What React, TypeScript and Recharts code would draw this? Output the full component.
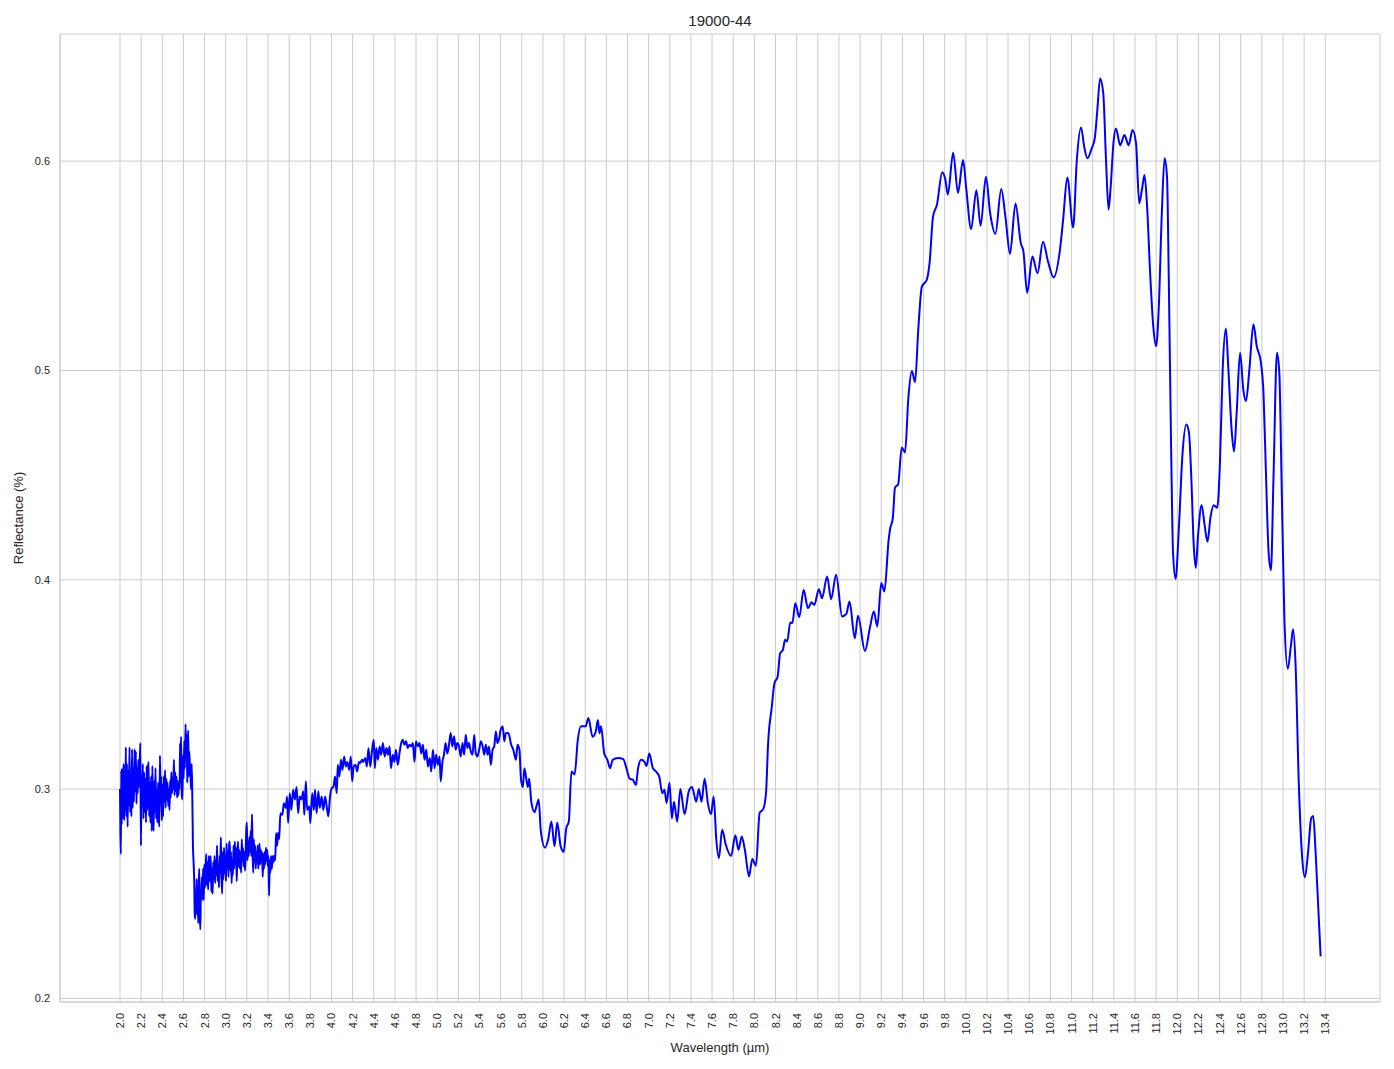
import { CartesianGrid, Label, Line, LineChart, XAxis, YAxis } from "recharts";

// [wavelength µm, reflectance]
const nearIrNoisy: [number, number][] = [
  [2.0, 0.3], [2.004, 0.279], [2.008, 0.269], [2.012, 0.309], [2.016, 0.283], [2.02, 0.31],
  [2.025, 0.286], [2.03, 0.298], [2.035, 0.312], [2.04, 0.285], [2.045, 0.305], [2.05, 0.29],
  [2.055, 0.32], [2.06, 0.287], [2.066, 0.312], [2.072, 0.282], [2.078, 0.309], [2.084, 0.292],
  [2.09, 0.32], [2.096, 0.289], [2.102, 0.306], [2.108, 0.287], [2.114, 0.319], [2.12, 0.291],
  [2.126, 0.31], [2.132, 0.294], [2.138, 0.319], [2.144, 0.299], [2.15, 0.318], [2.156, 0.293],
  [2.162, 0.31], [2.168, 0.298], [2.174, 0.314], [2.18, 0.301], [2.186, 0.309], [2.192, 0.322],
  [2.198, 0.273], [2.204, 0.306], [2.21, 0.292], [2.216, 0.312], [2.222, 0.286], [2.228, 0.308],
  [2.234, 0.289], [2.24, 0.305], [2.246, 0.284], [2.252, 0.311], [2.258, 0.29], [2.264, 0.309],
  [2.27, 0.313], [2.276, 0.287], [2.282, 0.303], [2.288, 0.284], [2.294, 0.306], [2.3, 0.28],
  [2.306, 0.311], [2.312, 0.291], [2.318, 0.28], [2.324, 0.304], [2.33, 0.289], [2.336, 0.31],
  [2.342, 0.286], [2.348, 0.3], [2.354, 0.284], [2.36, 0.303], [2.366, 0.288], [2.372, 0.282],
  [2.378, 0.316], [2.384, 0.293], [2.39, 0.306], [2.396, 0.285], [2.402, 0.302], [2.408, 0.287],
  [2.414, 0.306], [2.42, 0.294], [2.426, 0.309], [2.432, 0.291], [2.438, 0.305], [2.444, 0.295],
  [2.45, 0.303], [2.456, 0.292], [2.462, 0.3], [2.468, 0.29], [2.474, 0.304], [2.48, 0.296],
  [2.486, 0.308], [2.492, 0.298], [2.498, 0.305], [2.504, 0.3], [2.51, 0.314], [2.516, 0.297],
  [2.522, 0.308], [2.528, 0.299], [2.534, 0.306], [2.54, 0.296], [2.546, 0.304], [2.552, 0.297],
  [2.558, 0.303], [2.564, 0.3], [2.568, 0.322], [2.572, 0.309], [2.578, 0.325], [2.584, 0.298],
  [2.59, 0.295], [2.596, 0.316], [2.602, 0.305], [2.608, 0.323], [2.614, 0.31], [2.62, 0.331],
  [2.626, 0.315], [2.632, 0.326], [2.636, 0.303], [2.64, 0.32], [2.645, 0.328], [2.65, 0.306],
  [2.655, 0.318], [2.66, 0.312], [2.666, 0.307], [2.672, 0.3], [2.678, 0.312], [2.684, 0.296],
  [2.69, 0.273], [2.696, 0.265], [2.702, 0.256], [2.707, 0.24], [2.712, 0.238], [2.716, 0.251],
  [2.72, 0.24], [2.725, 0.257], [2.73, 0.242], [2.735, 0.25], [2.74, 0.236], [2.745, 0.255],
  [2.75, 0.262], [2.755, 0.24], [2.76, 0.233], [2.765, 0.252], [2.77, 0.248], [2.775, 0.258],
  [2.78, 0.247], [2.786, 0.262], [2.792, 0.247], [2.798, 0.264], [2.804, 0.253], [2.81, 0.261],
  [2.816, 0.269], [2.822, 0.254], [2.828, 0.265], [2.834, 0.252], [2.84, 0.268], [2.846, 0.256],
  [2.852, 0.263], [2.858, 0.268], [2.864, 0.251], [2.87, 0.262], [2.876, 0.25], [2.882, 0.265],
  [2.888, 0.257], [2.894, 0.268], [2.9, 0.255], [2.906, 0.266], [2.912, 0.259], [2.918, 0.273],
  [2.924, 0.256], [2.93, 0.264], [2.936, 0.253], [2.942, 0.268], [2.948, 0.26], [2.954, 0.277],
  [2.96, 0.258], [2.966, 0.25], [2.972, 0.27], [2.978, 0.257], [2.984, 0.272], [2.99, 0.26],
  [2.996, 0.268], [3.002, 0.256], [3.008, 0.274], [3.014, 0.262], [3.02, 0.27], [3.026, 0.258],
  [3.032, 0.273], [3.038, 0.275], [3.044, 0.261], [3.05, 0.27], [3.056, 0.255], [3.062, 0.266],
  [3.068, 0.259], [3.074, 0.273], [3.08, 0.262], [3.086, 0.275], [3.092, 0.264], [3.098, 0.272],
  [3.104, 0.256], [3.11, 0.268], [3.116, 0.275], [3.122, 0.263], [3.128, 0.271], [3.134, 0.262],
  [3.14, 0.27], [3.146, 0.26], [3.152, 0.276], [3.158, 0.266], [3.164, 0.272], [3.17, 0.263],
  [3.176, 0.27], [3.182, 0.261], [3.188, 0.268], [3.194, 0.28], [3.2, 0.284], [3.206, 0.266],
  [3.212, 0.275], [3.218, 0.268], [3.224, 0.277], [3.23, 0.27], [3.236, 0.28], [3.242, 0.268],
  [3.248, 0.288], [3.254, 0.271], [3.26, 0.26], [3.266, 0.276], [3.272, 0.266], [3.278, 0.273],
  [3.284, 0.262], [3.29, 0.27], [3.296, 0.265], [3.302, 0.273], [3.308, 0.262], [3.314, 0.27],
  [3.32, 0.274], [3.326, 0.264], [3.332, 0.271], [3.338, 0.266], [3.344, 0.27], [3.35, 0.258],
  [3.356, 0.269], [3.362, 0.262], [3.368, 0.27], [3.374, 0.264], [3.38, 0.272], [3.386, 0.266],
  [3.392, 0.271], [3.398, 0.263], [3.404, 0.268], [3.41, 0.249], [3.416, 0.266], [3.422, 0.26],
  [3.428, 0.268], [3.436, 0.262], [3.444, 0.268], [3.452, 0.265], [3.46, 0.268], [3.468, 0.266],
  [3.476, 0.279], [3.486, 0.273], [3.495, 0.279], [3.505, 0.276],
];

const midIrBand: [number, number][] = [
  [3.517, 0.2885], [3.536, 0.2877], [3.55, 0.2933], [3.568, 0.291], [3.58, 0.2965], [3.59, 0.2838],
  [3.606, 0.298], [3.62, 0.29], [3.638, 0.2997], [3.654, 0.295], [3.67, 0.301], [3.685, 0.2885],
  [3.7, 0.2965], [3.717, 0.295], [3.733, 0.299], [3.743, 0.2877], [3.758, 0.3037], [3.77, 0.29],
  [3.79, 0.2917], [3.8, 0.2838], [3.818, 0.298], [3.834, 0.29], [3.844, 0.2997], [3.86, 0.2885],
  [3.876, 0.299], [3.89, 0.291], [3.907, 0.2965], [3.923, 0.29], [3.94, 0.2965], [3.955, 0.2917],
  [3.97, 0.287], [3.987, 0.2965], [4.003, 0.3005], [4.018, 0.301], [4.034, 0.306], [4.05, 0.298],
  [4.06, 0.3116], [4.075, 0.306], [4.09, 0.314], [4.104, 0.3092], [4.12, 0.3156], [4.135, 0.3108],
  [4.15, 0.313], [4.167, 0.3092], [4.183, 0.3156], [4.196, 0.3037], [4.21, 0.3108], [4.227, 0.3116],
  [4.243, 0.3084], [4.26, 0.313], [4.27, 0.3124], [4.29, 0.314], [4.3, 0.313], [4.32, 0.3148],
  [4.335, 0.3108], [4.35, 0.3196], [4.367, 0.3108], [4.383, 0.318], [4.4, 0.3236], [4.41, 0.31],
  [4.424, 0.3196], [4.44, 0.314], [4.455, 0.3204], [4.47, 0.3164], [4.487, 0.322], [4.503, 0.3156],
  [4.52, 0.3196], [4.535, 0.3164], [4.55, 0.3204], [4.563, 0.31], [4.58, 0.3164], [4.595, 0.313],
  [4.61, 0.3188], [4.627, 0.3116], [4.643, 0.317], [4.66, 0.322], [4.675, 0.3236], [4.69, 0.3212],
  [4.706, 0.3228], [4.72, 0.3196], [4.738, 0.3212], [4.754, 0.3204], [4.77, 0.322], [4.785, 0.313],
  [4.8, 0.3228], [4.817, 0.3204], [4.833, 0.322], [4.85, 0.317], [4.865, 0.3212], [4.88, 0.314],
  [4.897, 0.3188], [4.912, 0.3108], [4.93, 0.3148], [4.944, 0.3084], [4.96, 0.3188], [4.976, 0.31],
  [4.99, 0.3164], [5.007, 0.3116], [5.023, 0.3156], [5.033, 0.3037], [5.05, 0.313], [5.064, 0.3164],
  [5.08, 0.322], [5.096, 0.317], [5.11, 0.3204], [5.128, 0.3268], [5.143, 0.3204], [5.16, 0.3252],
  [5.175, 0.3188], [5.19, 0.322], [5.207, 0.3204], [5.223, 0.3156], [5.24, 0.322], [5.255, 0.3164],
  [5.27, 0.326], [5.286, 0.3196], [5.3, 0.322], [5.318, 0.318], [5.334, 0.3164], [5.35, 0.326],
  [5.365, 0.317], [5.38, 0.3156], [5.397, 0.3188], [5.413, 0.3228], [5.43, 0.3204], [5.445, 0.3164],
  [5.46, 0.3212], [5.477, 0.3164], [5.49, 0.3204], [5.508, 0.3116], [5.524, 0.3188], [5.54, 0.3204],
  [5.555, 0.3275], [5.57, 0.322], [5.587, 0.3244], [5.6, 0.3283], [5.62, 0.3299], [5.635, 0.3228],
  [5.65, 0.3268], [5.673, 0.3268], [5.7, 0.3212], [5.72, 0.3188], [5.745, 0.314], [5.76, 0.3212],
  [5.778, 0.3188],
];

const dipRegion: [number, number][] = [
  [5.793, 0.3045], [5.81, 0.301], [5.825, 0.31], [5.857, 0.301], [5.87, 0.305], [5.89, 0.294],
  [5.92, 0.289], [5.94, 0.292], [5.96, 0.295], [5.98, 0.28], [6.02, 0.272], [6.05, 0.276],
  [6.08, 0.2845], [6.11, 0.2727], [6.135, 0.284], [6.168, 0.2727], [6.197, 0.27], [6.22, 0.281],
  [6.245, 0.2845], [6.27, 0.3084], [6.3, 0.307], [6.33, 0.3235], [6.36, 0.33], [6.405, 0.33],
  [6.43, 0.334], [6.47, 0.325], [6.5, 0.3275], [6.52, 0.333], [6.535, 0.3267], [6.55, 0.33],
  [6.58, 0.317], [6.61, 0.314], [6.635, 0.31], [6.66, 0.314], [6.71, 0.3148], [6.76, 0.3143],
  [6.79, 0.31], [6.82, 0.305], [6.85, 0.3045], [6.88, 0.302], [6.9, 0.31], [6.93, 0.314],
  [6.96, 0.313], [6.98, 0.311], [7.006, 0.317], [7.04, 0.31], [7.07, 0.3084], [7.1, 0.306],
  [7.13, 0.298], [7.15, 0.2997], [7.17, 0.2933], [7.197, 0.303], [7.22, 0.286], [7.24, 0.294],
  [7.27, 0.2845], [7.3, 0.3], [7.34, 0.288], [7.38, 0.299], [7.41, 0.301], [7.45, 0.294],
  [7.475, 0.3], [7.5, 0.294], [7.53, 0.305], [7.56, 0.2933], [7.59, 0.288], [7.615, 0.2965],
  [7.64, 0.2758], [7.665, 0.267], [7.695, 0.2806], [7.73, 0.2734], [7.78, 0.268], [7.82, 0.278],
  [7.85, 0.271], [7.88, 0.2774], [7.91, 0.271], [7.95, 0.2583], [7.98, 0.2666], [8.015, 0.2634],
  [8.05, 0.2886], [8.086, 0.2907], [8.11, 0.298],
];

const risingRegion: [number, number][] = [
  [8.13, 0.3218], [8.165, 0.3394], [8.19, 0.3506], [8.22, 0.3537], [8.244, 0.3649], [8.27, 0.3665],
  [8.29, 0.3713], [8.31, 0.3705], [8.34, 0.3796], [8.36, 0.3793], [8.387, 0.3888], [8.425, 0.3821],
  [8.466, 0.3952], [8.507, 0.3864], [8.54, 0.3892], [8.567, 0.388], [8.61, 0.3955], [8.64, 0.3912],
  [8.688, 0.4016], [8.726, 0.3907], [8.773, 0.4024], [8.83, 0.3825], [8.87, 0.3837], [8.9, 0.3896],
  [8.95, 0.372], [8.98, 0.3828], [9.046, 0.366], [9.094, 0.3774], [9.13, 0.3848], [9.163, 0.3777],
  [9.2, 0.3984], [9.23, 0.3944], [9.27, 0.419], [9.283, 0.424], [9.31, 0.4296], [9.33, 0.444],
  [9.36, 0.4456], [9.394, 0.4632], [9.425, 0.4608], [9.457, 0.4872], [9.49, 0.4997], [9.52, 0.4944],
  [9.55, 0.5192], [9.584, 0.54], [9.63, 0.5432], [9.657, 0.5512], [9.69, 0.5736], [9.727, 0.5792],
  [9.777, 0.5947], [9.806, 0.5912], [9.83, 0.584], [9.88, 0.604], [9.926, 0.5848], [9.974, 0.6005],
];

const peakRegion: [number, number][] = [
  [10.005, 0.5864], [10.05, 0.5675], [10.1, 0.5861], [10.14, 0.5691], [10.19, 0.5925], [10.23, 0.5752],
  [10.28, 0.5653], [10.335, 0.5867], [10.376, 0.5728], [10.418, 0.5557], [10.47, 0.5797], [10.52, 0.5608],
  [10.545, 0.5568], [10.58, 0.5371], [10.63, 0.5544], [10.678, 0.5464], [10.73, 0.5615], [10.778, 0.5519],
  [10.83, 0.5444], [10.89, 0.5575], [10.92, 0.5718], [10.96, 0.5922], [11.015, 0.5683], [11.05, 0.6005],
  [11.09, 0.616], [11.12, 0.6068], [11.15, 0.6013], [11.19, 0.606], [11.22, 0.611], [11.244, 0.6244],
  [11.27, 0.6395], [11.3, 0.6323], [11.326, 0.6005], [11.35, 0.5769], [11.37, 0.5877], [11.396, 0.6084],
  [11.42, 0.6156], [11.46, 0.6076], [11.5, 0.6124], [11.54, 0.6076], [11.577, 0.6148], [11.61, 0.6084],
  [11.64, 0.5798], [11.665, 0.5861], [11.69, 0.5933], [11.713, 0.5798], [11.745, 0.5447], [11.776, 0.5193],
  [11.8, 0.5116], [11.824, 0.5288], [11.855, 0.5766], [11.88, 0.6013], [11.903, 0.5925],
];

const tailRegion: [number, number][] = [
  [11.92, 0.543], [11.943, 0.459], [11.96, 0.413], [11.984, 0.4004], [12.016, 0.4256], [12.048, 0.459],
  [12.086, 0.4742], [12.11, 0.4706], [12.133, 0.4486], [12.155, 0.4172], [12.175, 0.4057], [12.197, 0.4214],
  [12.23, 0.4356], [12.26, 0.4256], [12.286, 0.4182], [12.314, 0.4298], [12.346, 0.4356], [12.378, 0.4344],
  [12.403, 0.4549], [12.43, 0.501], [12.46, 0.52], [12.483, 0.501], [12.514, 0.4717], [12.537, 0.4612],
  [12.562, 0.48], [12.594, 0.5084], [12.625, 0.4906], [12.65, 0.4853], [12.683, 0.501], [12.72, 0.522],
  [12.752, 0.5115], [12.79, 0.5042], [12.816, 0.4885], [12.84, 0.4486], [12.864, 0.413], [12.886, 0.4046],
  [12.91, 0.4486], [12.943, 0.5084], [12.965, 0.499], [12.99, 0.4382], [13.013, 0.3816], [13.045, 0.3575],
  [13.076, 0.369], [13.095, 0.3763], [13.118, 0.3606], [13.15, 0.3019], [13.18, 0.2683], [13.207, 0.2579],
  [13.238, 0.2704], [13.267, 0.2862], [13.286, 0.2872], [13.308, 0.2704], [13.356, 0.2201],
];

const xTicks = [
  2.0, 2.2, 2.4, 2.6, 2.8, 3.0, 3.2, 3.4, 3.6, 3.8, 4.0, 4.2, 4.4, 4.6, 4.8, 5.0, 5.2, 5.4, 5.6, 5.8,
  6.0, 6.2, 6.4, 6.6, 6.8, 7.0, 7.2, 7.4, 7.6, 7.8, 8.0, 8.2, 8.4, 8.6, 8.8, 9.0, 9.2, 9.4, 9.6, 9.8,
  10.0, 10.2, 10.4, 10.6, 10.8, 11.0, 11.2, 11.4, 11.6, 11.8, 12.0, 12.2, 12.4, 12.6, 12.8, 13.0,
  13.2, 13.4,
];
const yTicks = [0.2, 0.3, 0.4, 0.5, 0.6];

const spectrum = [
  ...nearIrNoisy,
  ...midIrBand,
  ...dipRegion,
  ...risingRegion,
  ...peakRegion,
  ...tailRegion,
].map(([x, y]) => ({ x, y }));

const FONT = "'Liberation Sans', Arial, sans-serif";
const TEXT = "#262626";
const GRID = "#cccccc";

function XTick({ x, y, payload }: any) {
  return (
    <text
      x={x}
      y={y}
      transform={`rotate(-90, ${x}, ${y})`}
      textAnchor="end"
      dominantBaseline="central"
      fontSize={11}
      fontFamily={FONT}
      fill={TEXT}
    >
      {Number(payload.value).toFixed(1)}
    </text>
  );
}

export default function App() {
  return (
    <div
      style={{
        position: "absolute",
        left: 0,
        top: 0,
        width: 1394,
        height: 1069,
        background: "#fff",
        fontFamily: FONT
      }}
    >
      <div
        style={{
          position: "absolute",
          left: 60,
          width: 1320,
          top: 13,
          textAlign: "center",
          fontSize: 15,
          lineHeight: "15px",
          color: TEXT
        }}
      >
        19000-44
      </div>
      <LineChart
        width={1394}
        height={1069}
        data={spectrum}
        margin={{ top: 34, right: 14, bottom: 0, left: 0 }}
      >
        <CartesianGrid stroke={GRID} strokeWidth={1} />
        <XAxis
          dataKey="x"
          type="number"
          domain={[1.4325, 13.9175]}
          allowDataOverflow
          ticks={xTicks}
          interval={0}
          height={67}
          tickLine={false}
          tickSize={0}
          tickMargin={11}
          axisLine={{ stroke: GRID }}
          tick={<XTick />}
        >
          <Label
            content={({ viewBox }: any) => (
              <text
                x={viewBox.x + viewBox.width / 2}
                y={1052}
                textAnchor="middle"
                fontSize={13}
                fontFamily={FONT}
                fill={TEXT}
              >
                Wavelength (µm)
              </text>
            )}
          />
        </XAxis>
        <XAxis
          xAxisId="top"
          orientation="top"
          dataKey="x"
          type="number"
          domain={[1.4325, 13.9175]}
          allowDataOverflow
          height={0}
          tick={false}
          tickLine={false}
          axisLine={{ stroke: GRID }}
        />
        <YAxis
          type="number"
          domain={[0.1983, 0.6607]}
          allowDataOverflow
          ticks={yTicks}
          interval={0}
          width={60}
          tickLine={false}
          tickSize={0}
          tickMargin={10}
          axisLine={{ stroke: GRID }}
          tick={{ fontSize: 11, fill: TEXT, fontFamily: FONT }}
          tickFormatter={(v: number) => v.toFixed(1)}
        >
          <Label
            content={({ viewBox }: any) => (
              <text
                x={18}
                y={viewBox.y + viewBox.height / 2}
                transform={`rotate(-90, 18, ${viewBox.y + viewBox.height / 2})`}
                textAnchor="middle"
                dominantBaseline="central"
                fontSize={13}
                fontFamily={FONT}
                fill={TEXT}
              >
                Reflectance (%)
              </text>
            )}
          />
        </YAxis>
        <YAxis
          yAxisId="right"
          orientation="right"
          type="number"
          domain={[0.1983, 0.6607]}
          allowDataOverflow
          width={0}
          tick={false}
          tickLine={false}
          axisLine={{ stroke: GRID }}
        />
        <Line
          type="monotone"
          dataKey="y"
          stroke="#0000ff"
          strokeWidth={2}
          dot={false}
          activeDot={false}
          isAnimationActive={false}
        />
      </LineChart>
    </div>
  );
}
